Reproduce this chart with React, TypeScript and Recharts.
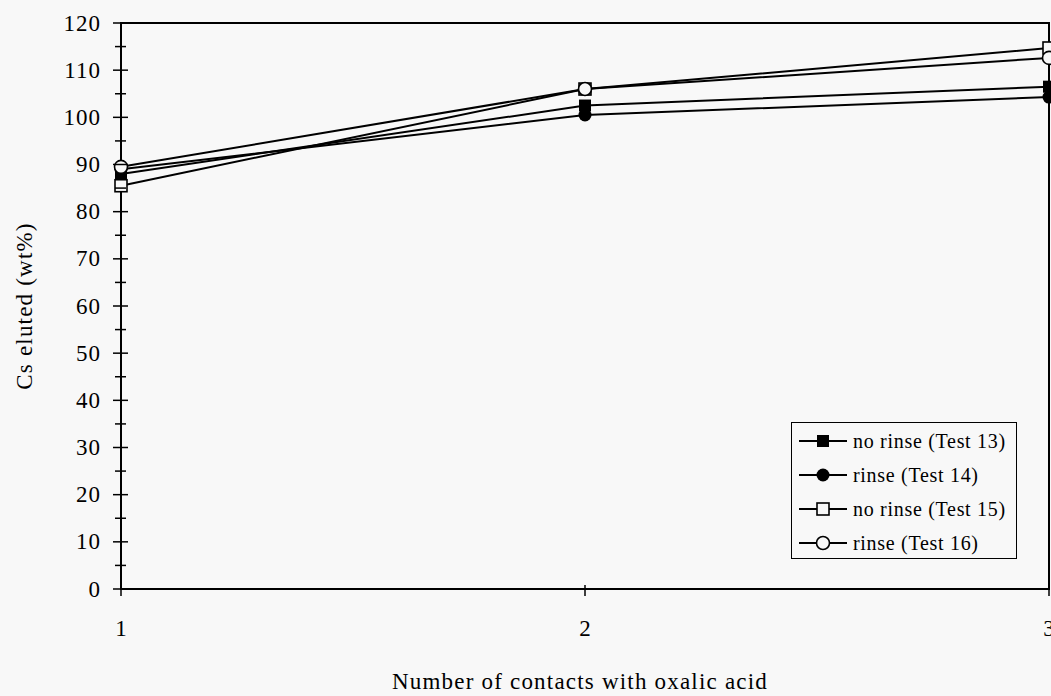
import { LineChart, Line, XAxis, YAxis, ReferenceArea, Legend } from 'recharts'

const contacts = [1, 2, 3]
const noRinse13 = [88, 102.5, 106.5]
const rinse14 = [89, 100.5, 104.3]
const noRinse15 = [85.5, 106, 114.7]
const rinse16 = [89.5, 106, 112.6]

const xTicks = [1, 2, 3]
const yTicks = [0, 5, 10, 15, 20, 25, 30, 35, 40, 45, 50, 55, 60, 65, 70, 75, 80, 85, 90, 95, 100, 105, 110, 115, 120]

const seriesNames = ['no rinse (Test 13)', 'rinse (Test 14)', 'no rinse (Test 15)', 'rinse (Test 16)']
const seriesKeys = ['t13', 't14', 't15', 't16']
const markerKinds = ['filledSquare', 'filledCircle', 'openSquare', 'openCircle']

const BG = '#f8f8f8'
const FONT = '"Liberation Serif", "Times New Roman", serif'

const data = contacts.map((c, i) => ({
  contact: c,
  t13: noRinse13[i],
  t14: rinse14[i],
  t15: noRinse15[i],
  t16: rinse16[i],
}))

function Marker({ cx, cy, kind }: { cx: number; cy: number; kind: string }) {
  if (kind === 'filledSquare') return <rect x={cx - 6} y={cy - 6} width={12} height={12} fill="#000" />
  if (kind === 'filledCircle') return <circle cx={cx} cy={cy} r={6.5} fill="#000" />
  if (kind === 'openSquare')
    return <rect x={cx - 6} y={cy - 6} width={12} height={12} fill={BG} stroke="#000" strokeWidth={1.6} />
  return <circle cx={cx} cy={cy} r={6.5} fill={BG} stroke="#000" strokeWidth={1.6} />
}

const YTick = (props: any) => {
  const { x, y, payload } = props
  const major = payload.value % 10 === 0
  return (
    <g>
      <line x1={x - (major ? 8 : 6)} x2={x + (major ? 7 : 5)} y1={y} y2={y} stroke="#000" strokeWidth={1.5} />
      {major && (
        <text x={x - 20} y={y} textAnchor="end" dominantBaseline="central" fontFamily={FONT} fontSize={23} letterSpacing={1} fill="#000">
          {payload.value}
        </text>
      )}
    </g>
  )
}

const XTick = (props: any) => {
  const { x, y, payload } = props
  return (
    <g>
      <line x1={x} x2={x} y1={y - 4} y2={y + 7} stroke="#000" strokeWidth={1.5} />
      <text x={x} y={y + 39} textAnchor="middle" dominantBaseline="central" fontFamily={FONT} fontSize={23} fill="#000">
        {payload.value}
      </text>
    </g>
  )
}

const LegendBox = () => (
  <div
    style={{
      position: 'relative',
      width: 226,
      height: 137,
      boxSizing: 'border-box',
      border: '1.5px solid #000',
      background: BG,
      fontFamily: FONT,
      fontSize: 20,
      letterSpacing: 0.7,
      color: '#000',
    }}
  >
    {seriesNames.map((name, i) => (
      <div key={name} style={{ position: 'absolute', left: 0, top: 1 + i * 34, height: 34, display: 'flex', alignItems: 'center' }}>
        <svg width={60} height={20} style={{ display: 'block' }}>
          <line x1={7} x2={55} y1={10} y2={10} stroke="#000" strokeWidth={2} />
          <Marker cx={31} cy={10} kind={markerKinds[i]} />
        </svg>
        <span style={{ marginLeft: 1, whiteSpace: 'nowrap' }}>{name}</span>
      </div>
    ))}
  </div>
)

export default function App() {
  return (
    <div style={{ position: 'fixed', left: 0, top: 0, width: 1051, height: 696, overflow: 'hidden', background: BG }}>
      <LineChart width={1080} height={696} data={data} margin={{ top: 23, right: 31, bottom: 0, left: 0 }}>
        <XAxis
          dataKey="contact"
          type="number"
          domain={[1, 3]}
          ticks={xTicks}
          interval={0}
          tickSize={0}
          tickMargin={0}
          height={107}
          axisLine={{ stroke: '#000', strokeWidth: 2 }}
          tick={<XTick />}
          label={{
            content: (p: any) => {
              const vb = p.viewBox
              return (
                <text x={vb.x + vb.width / 2 - 5} y={689} textAnchor="middle" fontFamily={FONT} fontSize={23} letterSpacing={1.2} fill="#000">
                  Number of contacts with oxalic acid
                </text>
              )
            },
          }}
        />
        <YAxis
          type="number"
          domain={[0, 120]}
          ticks={yTicks}
          interval={0}
          tickSize={0}
          tickMargin={0}
          width={121}
          axisLine={{ stroke: '#000', strokeWidth: 2 }}
          tick={<YTick />}
          label={{
            content: (p: any) => {
              const vb = p.viewBox
              const cx = 24
              const cy = vb.y + vb.height / 2
              return (
                <text x={cx} y={cy} transform={`rotate(-90 ${cx} ${cy})`} textAnchor="middle" dominantBaseline="central" fontFamily={FONT} fontSize={23} letterSpacing={1.2} fill="#000">
                  Cs eluted (wt%)
                </text>
              )
            },
          }}
        />
        <ReferenceArea x1={1} x2={3} y1={0} y2={120} fill="none" stroke="#000" strokeWidth={2} ifOverflow="visible" />
        {seriesKeys.map((k, i) => (
          <Line
            key={k}
            dataKey={k}
            name={seriesNames[i]}
            stroke="#000"
            strokeWidth={2}
            isAnimationActive={false}
            dot={(p: any) => <Marker key={`${k}-${p.index}`} cx={p.cx} cy={p.cy} kind={markerKinds[i]} />}
            activeDot={false}
          />
        ))}
        <Legend
          layout="horizontal"
          verticalAlign="middle"
          align="center"
          content={<LegendBox />}
          wrapperStyle={{ position: 'absolute', left: 791, top: 422, width: 226, height: 137 }}
        />
      </LineChart>
    </div>
  )
}
